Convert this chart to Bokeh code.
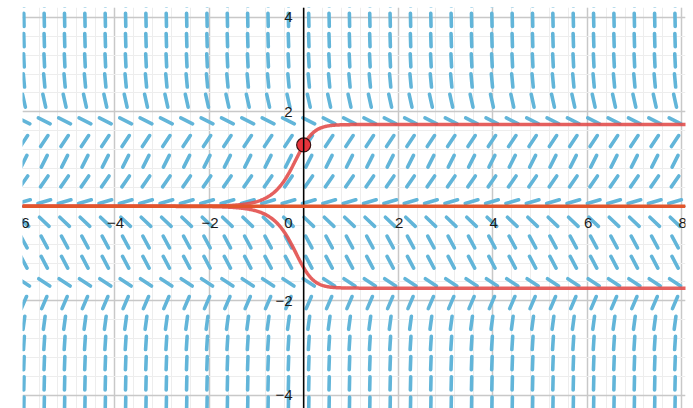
import numpy as np
from bokeh.plotting import figure
from bokeh.models import Grid, SingleIntervalTicker, Span
from bokeh.embed import file_html
from bokeh.resources import INLINE
from bokeh.core.properties import value

# Autonomous ODE  dy/dx = 3y - y^3  (equilibria at 0 and ±sqrt(3))
def rhs(y):
    return 3.0 * y - y ** 3

# Direction-field sampling grid
field_x0, field_dx, field_nx = -5.92, 0.4306, 33
field_y0, field_dy = 0.10, 0.4275
field_rows = list(range(-10, 11))
seg_len = 0.28          # length of each slope dash (data units, before round caps)

# Solution curves through these initial values at x = 0
initial_values = [1.3, -1.3]
marked_point = (0.0, 1.3)
equilibrium_lines = [0.0]

# Axis tick labels
x_ticks = [-6, -4, -2, 2, 4, 6, 8]
y_ticks = [-4, -2, 2, 4]

X_RANGE = (-5.95, 8.08)
Y_RANGE = (-4.28, 4.21)

p = figure(width=693, height=408, x_range=X_RANGE, y_range=Y_RANGE,
           output_backend="svg", toolbar_location=None,
           x_axis_type=None, y_axis_type=None,
           min_border_left=22, min_border_right=8,
           min_border_top=7, min_border_bottom=0)
p.outline_line_color = None
p.background_fill_color = "white"
p.border_fill_color = "white"

for dim in (0, 1):
    g = Grid(dimension=dim,
             ticker=SingleIntervalTicker(interval=2, num_minor_ticks=5),
             grid_line_color="#c8c8c8", grid_line_width=1.5,
             minor_grid_line_color="#ededed", minor_grid_line_width=1)
    p.add_layout(g)

# slope dashes
xs = field_x0 + field_dx * np.arange(field_nx)
ys = field_y0 + field_dy * np.array(field_rows)
GX, GY = np.meshgrid(xs, ys)
M = rhs(GY)
norm = np.sqrt(1.0 + M ** 2)
hx = 0.5 * seg_len / norm
hy = 0.5 * seg_len * M / norm
p.segment(x0=(GX - hx).ravel(), y0=(GY - hy).ravel(),
          x1=(GX + hx).ravel(), y1=(GY + hy).ravel(),
          line_color="#62b5d9", line_width=3.6, line_cap="round")

# coordinate axes
p.add_layout(Span(location=0, dimension="height", line_color="black", line_width=1.5))
p.add_layout(Span(location=0, dimension="width", line_color="black", line_width=1.5))

# solution curves (closed form of the Bernoulli equation)
cx = np.linspace(-6.2, 8.3, 900)
for y0 in initial_values:
    u = 1.0 / 3.0 + (1.0 / y0 ** 2 - 1.0 / 3.0) * np.exp(-6.0 * cx)
    cy = np.sign(y0) / np.sqrt(u)
    p.line(cx, cy, line_color="#e24f4c", line_alpha=0.9, line_width=3.5)

for e in equilibrium_lines:
    p.add_layout(Span(location=e, dimension="width", line_color="#e2552b", line_width=3.5))

p.scatter(x=[marked_point[0]], y=[marked_point[1]], size=14,
          fill_color="#e8343c", line_color="#3b1212", line_width=1.2)

# tick labels drawn next to the axes
font = value("Liberation Sans")
p.text(x=x_ticks, y=[0] * len(x_ticks),
       text=[str(t).replace("-", "\u2212") for t in x_ticks],
       text_align="center", text_baseline="middle", x_offset=1, y_offset=17,
       text_font=font, text_font_size="15px", text_color="#1a1a1a")
p.text(x=[0] * len(y_ticks), y=y_ticks,
       text=[str(t).replace("-", "\u2212") for t in y_ticks],
       text_align="right", text_baseline="middle", x_offset=-11,
       text_font=font, text_font_size="15px", text_color="#1a1a1a")
p.text(x=[0], y=[0], text=["0"], text_align="right", text_baseline="middle",
       x_offset=-11, y_offset=17,
       text_font=font, text_font_size="15px", text_color="#1a1a1a")

open("out.html", "w").write(file_html(p, INLINE))
